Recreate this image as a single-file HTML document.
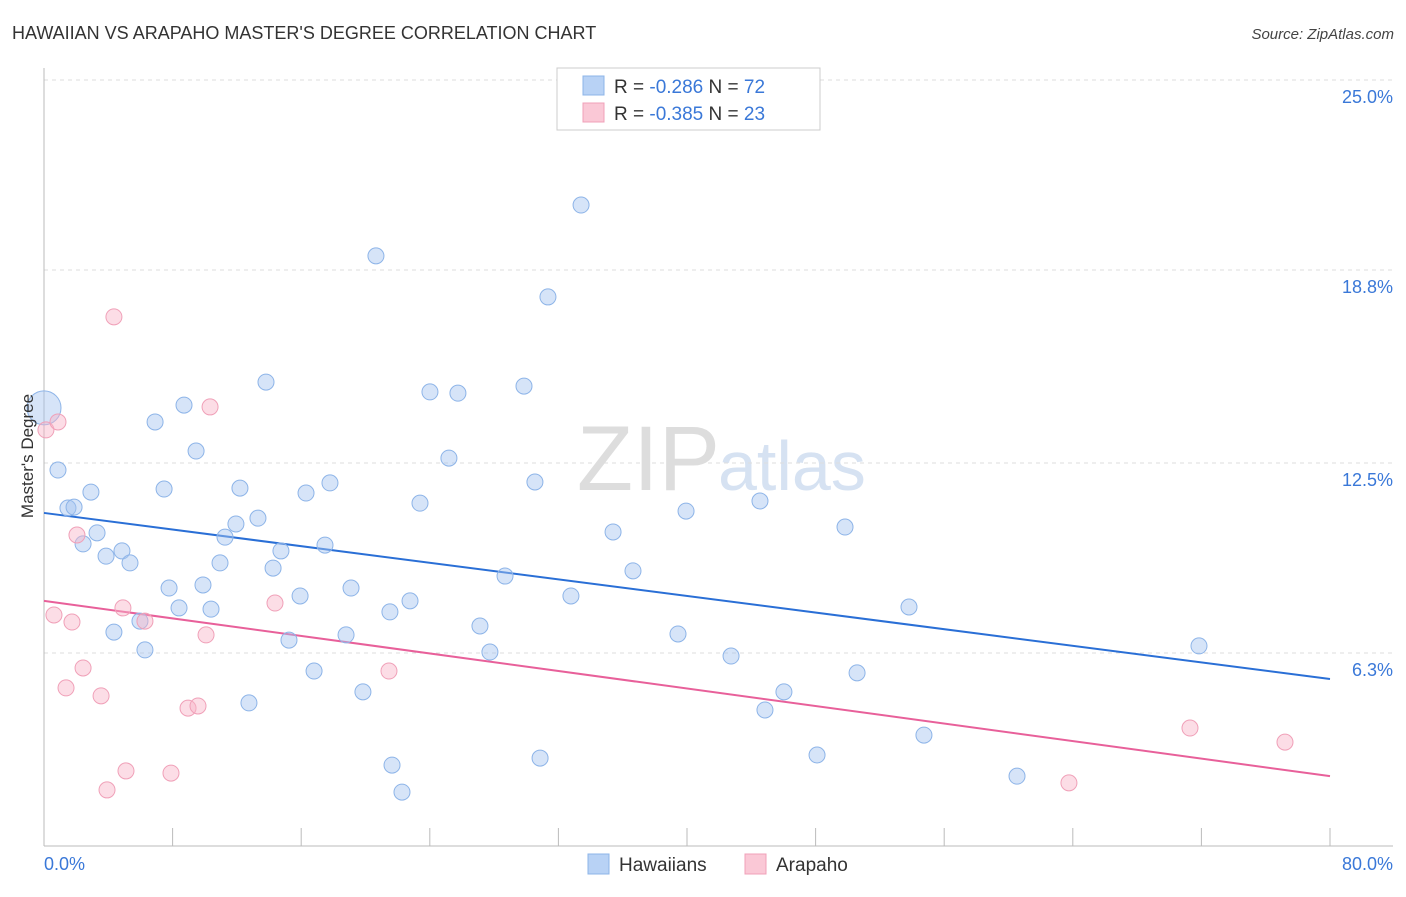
<!DOCTYPE html>
<html><head><meta charset="utf-8"><style>
body{margin:0;background:#fff;font-family:"Liberation Sans",sans-serif;}
svg text{font-family:"Liberation Sans",sans-serif;}
</style></head><body>
<svg id="chart" width="1406" height="892" xmlns="http://www.w3.org/2000/svg">
<text x="12" y="39" font-size="18" fill="#333">HAWAIIAN VS ARAPAHO MASTER'S DEGREE CORRELATION CHART</text>
<text x="1394" y="39" font-size="15" fill="#444" text-anchor="end" font-style="italic">Source: ZipAtlas.com</text>
<text x="720" y="490" font-size="92" fill="#ddd" text-anchor="end" font-family="Liberation Serif">ZIP</text>
<text x="718" y="490" font-size="70" fill="#d6e2f2">atlas</text>
<g id="grid"></g>
<g id="axes"></g>
<g id="lines"></g>
<g id="points"></g>
<text transform="translate(33,456) rotate(-90)" font-size="17" fill="#333" text-anchor="middle">Master's Degree</text>
<g>
<rect x="557" y="68" width="263" height="62" fill="#fff" stroke="#ccc"/>
<rect x="583" y="76" width="21" height="19" fill="#b8d2f5" stroke="#8db4e8"/>
<text x="614" y="93" font-size="19" fill="#333">R = <tspan fill="#3a78d8">-0.286</tspan>   N = <tspan fill="#3a78d8">72</tspan></text>
<rect x="583" y="103" width="21" height="19" fill="#fac8d6" stroke="#f0a0b8"/>
<text x="614" y="120" font-size="19" fill="#333">R = <tspan fill="#3a78d8">-0.385</tspan>   N = <tspan fill="#3a78d8">23</tspan></text>
</g>
<g>
<rect x="588" y="854" width="21" height="20" fill="#b8d2f5" stroke="#8db4e8"/>
<text x="619" y="871" font-size="19" fill="#333">Hawaiians</text>
<rect x="745" y="854" width="21" height="20" fill="#fac8d6" stroke="#f0a0b8"/>
<text x="776" y="871" font-size="19" fill="#333">Arapaho</text>
</g>
</svg>
<script>
const yTicks=[25.0,18.8,12.5,6.3];
const yTickLabels=["25.0%","18.8%","12.5%","6.3%"];
const xTickLabels=["0.0%","80.0%"];
const hawX=[0.0,0.87,1.49,1.87,2.92,2.43,3.30,3.86,4.85,5.35,4.35,5.97,6.28,6.91,8.71,7.47,9.46,7.78,8.40,9.89,10.39,10.95,11.26,11.94,12.19,13.31,13.81,12.75,14.25,14.74,15.24,15.93,16.30,16.80,17.48,17.79,18.79,19.10,19.84,20.65,21.52,21.65,22.27,22.77,23.39,24.01,25.19,25.75,27.12,27.74,28.68,29.86,30.54,30.86,31.35,32.78,33.41,35.40,36.64,39.44,39.94,42.74,44.54,44.85,46.03,48.09,49.83,50.58,53.81,54.74,60.53,71.85];
const hawY=[14.30,12.27,11.03,11.06,11.55,9.86,10.22,9.46,9.63,9.24,6.98,7.34,6.40,13.84,14.39,11.65,12.89,8.42,7.77,8.52,7.73,9.24,10.08,10.51,11.68,10.70,15.14,4.67,9.07,9.63,6.72,8.16,11.52,5.71,9.82,11.85,6.89,8.42,5.03,19.26,7.64,2.64,1.76,8.00,11.19,14.82,12.66,14.78,7.18,6.33,8.81,15.01,11.88,2.87,17.92,8.16,20.92,10.25,8.98,6.92,10.93,6.20,11.26,4.44,5.03,2.97,10.41,5.65,7.80,3.62,2.28,6.53];
const araX=[0.12,0.87,0.62,1.37,1.74,2.05,2.43,3.55,4.35,4.91,5.10,3.92,6.28,7.90,8.96,9.58,10.08,10.33,14.37,21.46,63.76,71.29,77.20];
const araY=[13.58,13.84,7.54,5.16,7.31,10.15,5.81,4.90,17.27,7.77,2.45,1.83,7.34,2.38,4.50,4.57,6.89,14.33,7.93,5.71,2.06,3.85,3.39];
const hawTrend=[10.87,5.45];
const araTrend=[8.00,2.28];
const NS="http://www.w3.org/2000/svg";
const X0=44,X1=1330,Y0=846,YTOP=80;
function sx(v){return X0+(X1-X0)*v/80;}
function sy(v){return Y0-(Y0-YTOP)*v/25;}
function mk(t,a,p){const e=document.createElementNS(NS,t);for(const k in a)e.setAttribute(k,a[k]);p.appendChild(e);return e;}
const grid=document.getElementById('grid');
yTicks.forEach((t,i)=>{
 const l=mk('line',{x1:44,x2:1393,y1:sy(t),y2:sy(t),stroke:'#ddd','stroke-dasharray':'4,4'},grid);
 
 
 const tx=mk('text',{x:1393,y:sy(t)+23,'font-size':18,fill:'#3a78d8','text-anchor':'end'},grid);
 tx.textContent=yTickLabels[i];
 
 
});
const ax=document.getElementById('axes');
const ya=mk('line',{x1:44,x2:44,y1:68,y2:846,stroke:'#bbb'},ax);


const xa=mk('line',{x1:44,x2:1393,y1:846,y2:846,stroke:'#bbb'},ax);


for(let i=0;i<=10;i++){
 const t=mk('line',{x1:sx(i*8),x2:sx(i*8),y1:828,y2:846,stroke:'#bbb'},ax);
 
 
}
[[0,'start',44],[80,'end',1393]].forEach((d,i)=>{
 const tx=mk('text',{x:d[2],y:870,'font-size':18,fill:'#3a78d8','text-anchor':d[1]},ax);
 tx.textContent=xTickLabels[i];
 
 
});
const pts=document.getElementById('points');
function drawPts(xs,ys,fill,stroke,name){
 xs.forEach((x,i)=>{
  const r=(i===0&&name==='hawaiian-point')?17:8;
  const c=mk('circle',{cx:sx(x),cy:sy(ys[i]),r:r,fill:fill,stroke:stroke,'stroke-width':1},pts);
  
  
 });
}
drawPts(hawX,hawY,'rgba(164,196,240,0.45)','#8db4e8','hawaiian-point');
drawPts(araX,araY,'rgba(248,180,200,0.45)','#f0a0b8','arapaho-point');
const lg=document.getElementById('lines');
const bl=mk('line',{x1:sx(0),y1:sy(hawTrend[0]),x2:sx(80),y2:sy(hawTrend[1]),stroke:'#2a6fd6','stroke-width':2},lg);


const pl=mk('line',{x1:sx(0),y1:sy(araTrend[0]),x2:sx(80),y2:sy(araTrend[1]),stroke:'#e8609a','stroke-width':2},lg);


</script>
</body></html>
